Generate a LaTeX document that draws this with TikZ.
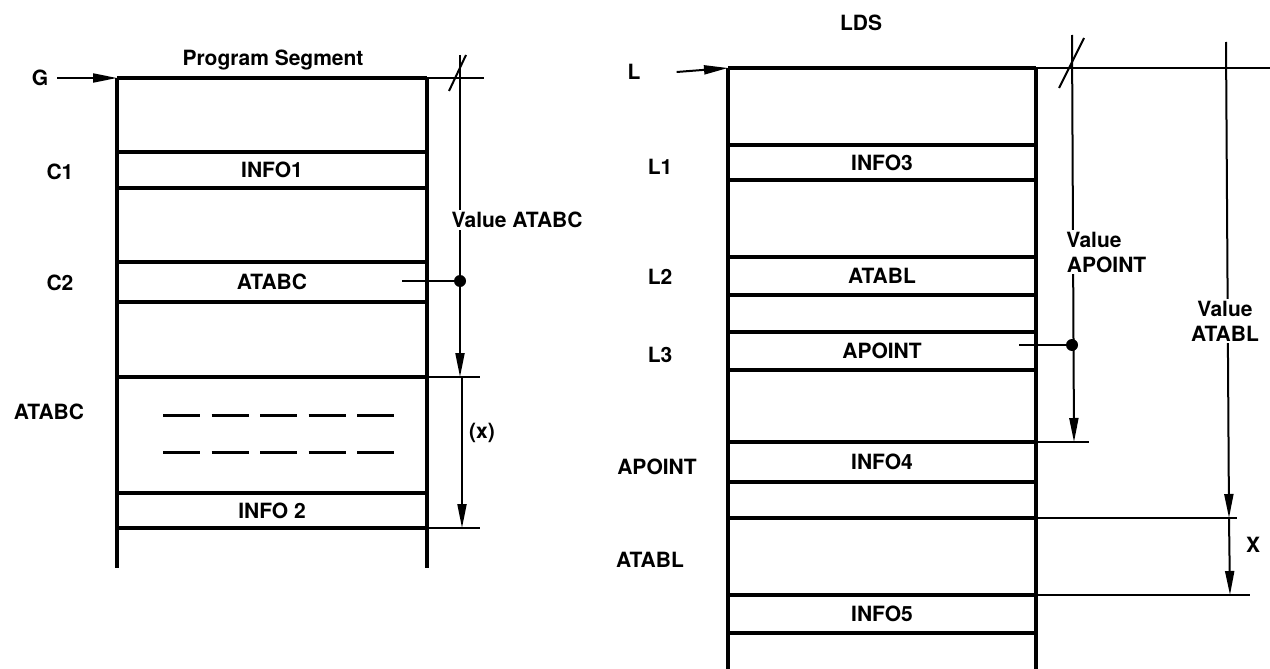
\documentclass[tikz,border=0pt]{standalone}
\usepackage{fontspec}
\setmainfont{TeX Gyre Heros}
\usetikzlibrary{arrows.meta}
\begin{document}
\begin{tikzpicture}[x=1pt,y=-1pt,
  lbl/.style={font=\bfseries\fontsize{21}{25}\selectfont, inner sep=1pt},
  col/.style={line width=3.2pt},
  dim/.style={line width=2pt},
  tipd/.style={-{Triangle[length=24pt,width=9pt]}},
  dotn/.style={circle,fill,inner sep=0pt,minimum size=12pt},
  dashln/.style={line width=3pt,dash pattern=on 37pt off 11.5pt},
]
\useasboundingbox (0,0) rectangle (1270,669);

% ---------------- left: Program Segment ----------------
\draw[col] (117,78) -- (117,568);
\draw[col] (427,78) -- (427,568);
\draw[col] (117,78) -- (427,78);
\foreach \yy in {152,188,262,302,377,493,528} {\draw[col] (117,\yy) -- (427,\yy);}
\draw[dim] (427,78) -- (484,78);
\draw[dim] (427,377) -- (480,377);
\draw[dim] (427,528) -- (480,528);

\node[lbl] (ps) at (273,60) {Program Segment};
\node[lbl] (G) at (40,78) {G};
\coordinate (gtop) at (117,78);
\draw[dim,tipd] (G.east)+(8,0) -- (gtop);

\node[lbl] (C1) at (60,172) {C1};
\node[lbl] (C2) at (60,283) {C2};
\node[lbl] (atabcl) at (49,412) {ATABC};
\node[lbl] (info1) at (272,170) {INFO1};
\node[lbl] (atabcc) at (272,282) {ATABC};
\node[lbl] (info2) at (272,511) {INFO 2};
\draw[dashln] (163,415) -- (394,415);
\draw[dashln] (163,452) -- (394,452);

% dimension Value ATABC
\coordinate (da0) at (460,55);
\coordinate (da1) at (460,377);
\coordinate (da2) at (462,528);
\draw[dim] (449,91) -- (466,55);
\draw[dim,tipd] (da0) -- (da1);
\draw[dim,tipd] (462,377) -- (da2);
\node[lbl,fill=white,inner sep=2pt] (vatabc) at (517,220) {Value ATABC};
\node[dotn] (d1) at (460,281) {};
\coordinate (d1s) at (402,281);
\draw[dim] (d1s) -- (d1.center);
\node[lbl] (xl) at (482,433) {(x)};

% ---------------- right: LDS ----------------
\draw[col] (728,68) -- (728,669);
\draw[col] (1036,68) -- (1036,669);
\draw[col] (728,68) -- (1036,68);
\foreach \yy in {145,180,257,295,332,370,442,482,518,595,633} {\draw[col] (728,\yy) -- (1036,\yy);}
\draw[dim] (1036,68) -- (1270,68);
\draw[dim] (1036,442) -- (1089,442);
\draw[dim] (1036,518) -- (1237,518);
\draw[dim] (1036,595) -- (1250,595);

\node[lbl] (lds) at (861,23) {LDS};
\node[lbl] (L) at (634,72) {L};
\coordinate (ltop) at (728,68);
\draw[dim,tipd] (L.east)+(35,0) -- (ltop);

\node[lbl] (L1) at (660,167) {L1};
\node[lbl] (L2) at (660,277) {L2};
\node[lbl] (L3) at (660,355) {L3};
\node[lbl] (apointl) at (657,467) {APOINT};
\node[lbl] (atabll) at (650,560) {ATABL};
\node[lbl] (info3) at (882,163) {INFO3};
\node[lbl] (atablc) at (882,276) {ATABL};
\node[lbl] (apointc) at (882,351) {APOINT};
\node[lbl] (info4) at (882,462) {INFO4};
\node[lbl] (info5) at (882,614) {INFO5};

% dimension Value APOINT
\coordinate (db0) at (1072,35);
\coordinate (db1) at (1074,442);
\draw[dim] (1059,88) -- (1084,38);
\draw[dim,tipd] (db0) -- (db1);
\node[lbl,fill=white,inner sep=2pt,align=center] (vapoint) at (1094,252) {Value\\\hspace*{1.2em}APOINT};
\node[dotn] (d2) at (1072,345) {};
\coordinate (d2s) at (1019,345);
\draw[dim] (d2s) -- (d2.center);

% dimension Value ATABL
\coordinate (dc0) at (1226,42);
\coordinate (dc1) at (1229,518);
\coordinate (dc2) at (1230,595);
\draw[dim,tipd] (dc0) -- (dc1);
\draw[dim,tipd] (1229,518) -- (dc2);
\node[lbl,fill=white,inner sep=2pt,align=center] (vatabl) at (1225,321) {Value\\ATABL};
\node[lbl] (X) at (1253,545) {X};
\end{tikzpicture}
\end{document}
